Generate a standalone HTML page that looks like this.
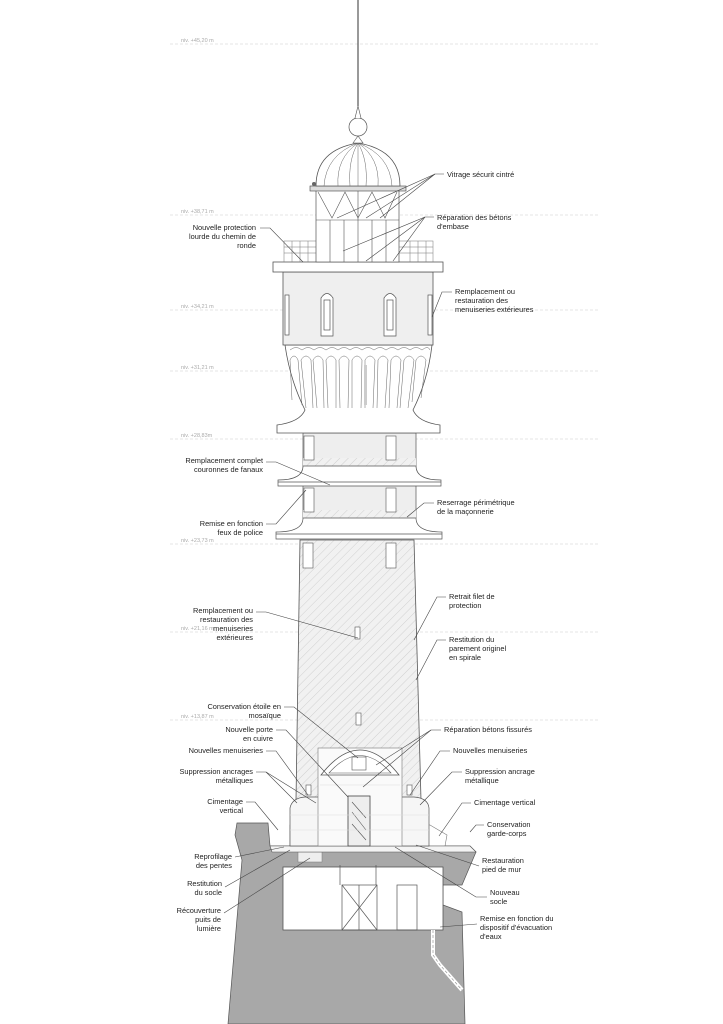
<!DOCTYPE html>
<html><head><meta charset="utf-8"><style>
html,body{margin:0;padding:0;background:#fff}
svg{display:block}
.t{font-family:"Liberation Sans",sans-serif;font-size:7.4px;fill:#222}
.lv{font-family:"Liberation Sans",sans-serif;font-size:5.5px;fill:#aaa}
.ld{stroke:#444;stroke-width:0.6;fill:none}
.o{stroke:#555;stroke-width:0.7;fill:none}
</style></head><body>
<svg width="723" height="1024" viewBox="0 0 723 1024" xmlns="http://www.w3.org/2000/svg">
<defs>
<pattern id="h" width="6" height="6" patternUnits="userSpaceOnUse" patternTransform="rotate(45)">
<rect width="6" height="6" fill="#f1f1f1"/><line x1="0" y1="0" x2="0" y2="6" stroke="#c8c8c8" stroke-width="0.8"/>
</pattern>
</defs>
<g stroke="#ccc" stroke-width="0.6" stroke-dasharray="3,2">
<line x1="170" y1="44" x2="600" y2="44"/><line x1="170" y1="215" x2="600" y2="215"/>
<line x1="170" y1="310" x2="600" y2="310"/><line x1="170" y1="371" x2="600" y2="371"/>
<line x1="170" y1="439" x2="600" y2="439"/><line x1="170" y1="544" x2="600" y2="544"/>
<line x1="170" y1="632" x2="600" y2="632"/><line x1="170" y1="720" x2="600" y2="720"/>
</g>
<g class="lv">
<text x="181" y="42">niv. +45,20 m</text><text x="181" y="213">niv. +38,71 m</text>
<text x="181" y="308">niv. +34,21 m</text><text x="181" y="369">niv. +31,21 m</text>
<text x="181" y="437">niv. +28,83m</text><text x="181" y="542">niv. +23,73 m</text>
<text x="181" y="630">niv. +21,16 m</text><text x="181" y="718">niv. +13,87 m</text>
</g>
<!-- rock base -->
<path d="M237,823 L268,823 L270,846 L470,846 L476,852 L462,885 L443,885 L443,905 L462,912 L465,1024 L228,1024 L242,860 L235,835 Z" fill="#a8a8a8" stroke="#555" stroke-width="0.7"/>
<rect x="283" y="867" width="160" height="63" fill="#fff" stroke="#555" stroke-width="0.8"/>
<rect x="298" y="852" width="24" height="10" fill="#eee" stroke="#777" stroke-width="0.5"/>
<path d="M433,930 L433,955 L440,965 L462,990" stroke="#fff" stroke-width="4" fill="none"/>
<path d="M433,930 L433,955 L440,965 L462,990" stroke="#888" stroke-width="0.6" fill="none" stroke-dasharray="3,2"/>
<g class="o"><rect x="342" y="885" width="35" height="45"/><line x1="342" y1="885" x2="377" y2="930"/><line x1="377" y1="885" x2="342" y2="930"/><line x1="359" y1="885" x2="359" y2="930"/>
<rect x="397" y="885" width="20" height="45"/><line x1="340" y1="865" x2="340" y2="885"/><line x1="376" y1="865" x2="376" y2="885"/></g>
<!-- plinth -->
<path d="M290,846 L445,846 L447,835 L430,825 L290,825 Z" fill="#fff" stroke="#777" stroke-width="0.6"/>
<path d="M270,846 L470,846 L476,852 L272,852 Z" fill="#f4f4f4" stroke="#555" stroke-width="0.6"/>
<!-- tower hatched -->
<path d="M300,540 L414,540 L421,800 L296,800 Z" fill="url(#h)" stroke="#555" stroke-width="0.8"/>
<!-- entrance -->
<path d="M290,846 L290,808 Q292,798 305,797 L414,797 Q428,798 429,808 L429,846 Z" fill="#f6f6f6" stroke="#555" stroke-width="0.7"/>
<rect x="318" y="748" width="84" height="98" fill="#fafafa" stroke="#777" stroke-width="0.6"/>
<path d="M321,775 Q360,725 399,775 Z" fill="#fff" stroke="#555" stroke-width="0.8"/>
<path d="M329,773 Q360,738 391,773 Z" fill="#fff" stroke="#555" stroke-width="0.6"/>
<rect x="352" y="757" width="14" height="13" fill="#fff" stroke="#555" stroke-width="0.6"/>
<rect x="348" y="796" width="22" height="50" fill="#eee" stroke="#444" stroke-width="0.8"/>
<path d="M352,802 L366,818 M352,812 L366,830 M352,824 L366,840" stroke="#555" stroke-width="0.6"/>
<g stroke="#ddd" stroke-width="0.5"><line x1="290" y1="815" x2="429" y2="815"/><line x1="290" y1="830" x2="429" y2="830"/><line x1="320" y1="785" x2="400" y2="785"/></g>
<rect x="306" y="785" width="5" height="10" fill="#fff" stroke="#555" stroke-width="0.6"/>
<rect x="407" y="785" width="5" height="10" fill="#fff" stroke="#555" stroke-width="0.6"/>
<rect x="356" y="713" width="5" height="12" fill="#fff" stroke="#555" stroke-width="0.6"/>
<rect x="355" y="627" width="5" height="12" fill="#fff" stroke="#555" stroke-width="0.6"/>
<rect x="303" y="543" width="10" height="25" fill="#fff" stroke="#555" stroke-width="0.6"/>
<rect x="386" y="543" width="10" height="25" fill="#fff" stroke="#555" stroke-width="0.6"/>
<!-- tiers -->
<rect x="303" y="485" width="113" height="33" fill="#eee" stroke="#555" stroke-width="0.7"/>
<rect x="303" y="510" width="113" height="8" fill="url(#h)"/>
<rect x="303" y="433" width="113" height="33" fill="#eee" stroke="#555" stroke-width="0.7"/>
<rect x="303" y="458" width="113" height="8" fill="url(#h)"/>
<g fill="#fff" stroke="#555" stroke-width="0.6">
<rect x="304" y="436" width="10" height="24"/><rect x="386" y="436" width="10" height="24"/>
<rect x="304" y="488" width="10" height="24"/><rect x="386" y="488" width="10" height="24"/>
</g>
<g fill="#fff" stroke="#555" stroke-width="0.7">
<path d="M303,466 Q303,480 278,480 L278,486 L441,486 L441,480 Q416,480 416,466 Z"/>
<line x1="278" y1="482" x2="441" y2="482"/>
<path d="M303,518 Q303,532 276,532 L276,539 L442,539 L442,532 Q416,532 416,518 Z"/>
<line x1="276" y1="534" x2="442" y2="534"/>
</g>
<!-- corbel -->
<path d="M285,345 L432,345 Q428,380 413,410 Q418,422 440,425 L440,433 L277,433 L277,425 Q300,422 305,410 Q290,380 285,345 Z" fill="#fff" stroke="#555" stroke-width="0.8"/>
<g stroke="#666" stroke-width="0.5" fill="none">
<path d="M290,350 Q296,345 302,350 Q308,345 314,350 Q320,345 326,350 Q332,345 338,350 Q344,345 350,350 Q356,345 362,350 Q368,345 374,350 Q380,345 386,350 Q392,345 398,350 Q404,345 410,350 Q416,345 422,350 Q428,345 430,350"/>
<path d="M292,400 L290,360 Q294,352 298,360 L302,405"/><path d="M306,408 L301,360 Q306,352 311,360 L313,408"/>
<path d="M317,408 L313,360 Q318,352 323,360 L324,408"/><path d="M328,408 L326,360 Q331,352 336,360 L336,408"/>
<path d="M340,408 L339,360 Q344,352 349,360 L348,408"/><path d="M352,408 L352,360 Q357,352 362,360 L361,408"/>
<path d="M365,408 L365,360 Q370,352 375,360 L373,408"/><path d="M377,408 L378,360 Q383,352 388,360 L385,408"/>
<path d="M389,408 L391,360 Q396,352 401,360 L397,408"/><path d="M400,408 L404,360 Q409,352 414,360 L408,408"/>
<path d="M412,402 L416,360 Q421,352 426,360 L421,398"/>
</g>
<rect x="364" y="365" width="3" height="40" fill="#ccc"/>
<!-- watch room -->
<rect x="283" y="272" width="150" height="73" fill="#efefef" stroke="#555" stroke-width="0.8"/>
<g fill="#fff" stroke="#555" stroke-width="0.7">
<path d="M321,336 L321,298 Q327,289 333,298 L333,336 Z"/><path d="M384,336 L384,298 Q390,289 396,298 L396,336 Z"/>
<rect x="324" y="300" width="6" height="30"/><rect x="387" y="300" width="6" height="30"/>
<rect x="285" y="295" width="4" height="40"/><rect x="428" y="295" width="4" height="40"/>
</g>
<!-- gallery -->
<rect x="273" y="262" width="170" height="10" fill="#fff" stroke="#555" stroke-width="0.8"/>
<g stroke="#777" stroke-width="0.5">
<rect x="284" y="241" width="149" height="21" fill="none"/>
<line x1="284" y1="247" x2="433" y2="247"/><line x1="284" y1="253" x2="433" y2="253"/>
<line x1="292" y1="241" x2="292" y2="262"/><line x1="300" y1="241" x2="300" y2="262"/><line x1="308" y1="241" x2="308" y2="262"/>
<line x1="410" y1="241" x2="410" y2="262"/><line x1="418" y1="241" x2="418" y2="262"/><line x1="426" y1="241" x2="426" y2="262"/>
</g>
<!-- lantern -->
<rect x="316" y="190" width="83" height="72" fill="#fff" stroke="#555" stroke-width="0.7"/>
<g stroke="#555" stroke-width="0.6" fill="none">
<line x1="316" y1="220" x2="399" y2="220"/>
<line x1="330" y1="220" x2="330" y2="262"/><line x1="344" y1="220" x2="344" y2="262"/><line x1="358" y1="190" x2="358" y2="262"/><line x1="372" y1="220" x2="372" y2="262"/><line x1="386" y1="220" x2="386" y2="262"/>
<path d="M318,192 L332,218 L345,192 L358,218 L372,192 L385,218 L397,192"/>
</g>
<rect x="310" y="186" width="96" height="5" fill="#ddd" stroke="#444" stroke-width="0.6"/>
<g fill="#666"><circle cx="314" cy="184" r="2"/><circle cx="326" cy="184" r="2"/><circle cx="338" cy="184" r="2"/><circle cx="350" cy="184" r="2"/><circle cx="362" cy="184" r="2"/><circle cx="374" cy="184" r="2"/><circle cx="386" cy="184" r="2"/><circle cx="398" cy="184" r="2"/></g>
<!-- dome -->
<path d="M316,186 Q316,150 358,143 Q400,150 400,186 Z" fill="#fff" stroke="#555" stroke-width="0.8"/>
<g stroke="#666" stroke-width="0.5" fill="none">
<path d="M358,143 Q326,155 324,186"/><path d="M358,143 Q336,158 338,186"/><path d="M358,143 Q348,160 350,186"/>
<path d="M358,143 L358,186"/><path d="M358,143 Q368,160 366,186"/><path d="M358,143 Q380,158 378,186"/><path d="M358,143 Q390,155 392,186"/>
</g>
<path d="M353,143 L358,136 L363,143 Z" fill="#fff" stroke="#555" stroke-width="0.6"/>
<circle cx="358" cy="127" r="9" fill="#fff" stroke="#555" stroke-width="0.7"/>
<path d="M355,118 L358,106 L361,118" fill="#fff" stroke="#555" stroke-width="0.6"/>
<line x1="358" y1="0" x2="358" y2="106" stroke="#555" stroke-width="1.2"/>

<g class="ld">
<path d="M444,174 L435,174 L337,218"/><path d="M435,174 L366,218"/><path d="M435,174 L380,218"/>
<path d="M434,217 L425,217 L393,261"/><path d="M425,217 L366,261"/><path d="M425,217 L343,251"/>
<path d="M260,228 L270,228 L303,262"/>
<path d="M452,292 L442,292 L432,317"/>
<path d="M266,462 L276,462 L330,485"/>
<path d="M266,524 L276,524 L306,490"/>
<path d="M434,503 L424,503 L407,517"/>
<path d="M256,612 L266,612 L358,638"/>
<path d="M446,597 L437,597 L414,640"/>
<path d="M446,640 L437,640 L416,680"/>
<path d="M284,707 L294,707 L358,758"/>
<path d="M276,730 L286,730 L348,797"/>
<path d="M266,751 L276,751 L308,795"/>
<path d="M256,772 L266,772 L297,803"/><path d="M266,772 L316,803"/>
<path d="M246,802 L255,802 L278,830"/>
<path d="M235,857 L284,847"/><path d="M225,887 L290,850"/><path d="M224,913 L310,858"/>
<path d="M441,730 L431,730 L363,787"/><path d="M431,730 L376,765"/>
<path d="M450,751 L440,751 L410,795"/>
<path d="M462,772 L452,772 L420,805"/>
<path d="M471,803 L462,803 L439,836"/>
<path d="M484,825 L476,825 L470,832"/>
<path d="M479,866 L416,845"/>
<path d="M487,897 L476,897 L395,847"/>
<path d="M477,924 L440,927"/>
</g>
<g class="t" text-anchor="end">
<text x="256" y="230">Nouvelle protection</text><text x="256" y="239">lourde du chemin de</text><text x="256" y="248">ronde</text>
<text x="263" y="463">Remplacement complet</text><text x="263" y="472">couronnes de fanaux</text>
<text x="263" y="526">Remise en fonction</text><text x="263" y="535">feux de police</text>
<text x="253" y="613">Remplacement ou</text><text x="253" y="622">restauration des</text><text x="253" y="631">menuiseries</text><text x="253" y="640">extérieures</text>
<text x="281" y="709">Conservation étoile en</text><text x="281" y="718">mosaïque</text>
<text x="273" y="732">Nouvelle porte</text><text x="273" y="741">en cuivre</text>
<text x="263" y="753">Nouvelles menuiseries</text>
<text x="253" y="774">Suppression ancrages</text><text x="253" y="783">métalliques</text>
<text x="243" y="804">Cimentage</text><text x="243" y="813">vertical</text>
<text x="232" y="859">Reprofilage</text><text x="232" y="868">des pentes</text>
<text x="222" y="886">Restitution</text><text x="222" y="895">du socle</text>
<text x="221" y="913">Récouverture</text><text x="221" y="922">puits de</text><text x="221" y="931">lumière</text>
</g>
<g class="t">
<text x="447" y="177">Vitrage sécurit cintré</text>
<text x="437" y="220">Réparation des bétons</text><text x="437" y="229">d'embase</text>
<text x="455" y="294">Remplacement ou</text><text x="455" y="303">restauration des</text><text x="455" y="312">menuiseries extérieures</text>
<text x="437" y="505">Reserrage périmétrique</text><text x="437" y="514">de la maçonnerie</text>
<text x="449" y="599">Retrait filet de</text><text x="449" y="608">protection</text>
<text x="449" y="642">Restitution du</text><text x="449" y="651">parement originel</text><text x="449" y="660">en spirale</text>
<text x="444" y="732">Réparation bétons fissurés</text>
<text x="453" y="753">Nouvelles menuiseries</text>
<text x="465" y="774">Suppression ancrage</text><text x="465" y="783">métallique</text>
<text x="474" y="805">Cimentage vertical</text>
<text x="487" y="827">Conservation</text><text x="487" y="836">garde-corps</text>
<text x="482" y="863">Restauration</text><text x="482" y="872">pied de mur</text>
<text x="490" y="895">Nouveau</text><text x="490" y="904">socle</text>
<text x="480" y="921">Remise en fonction du</text><text x="480" y="930">dispositif d'évacuation</text><text x="480" y="939">d'eaux</text>
</g>
</svg>
</body></html>
